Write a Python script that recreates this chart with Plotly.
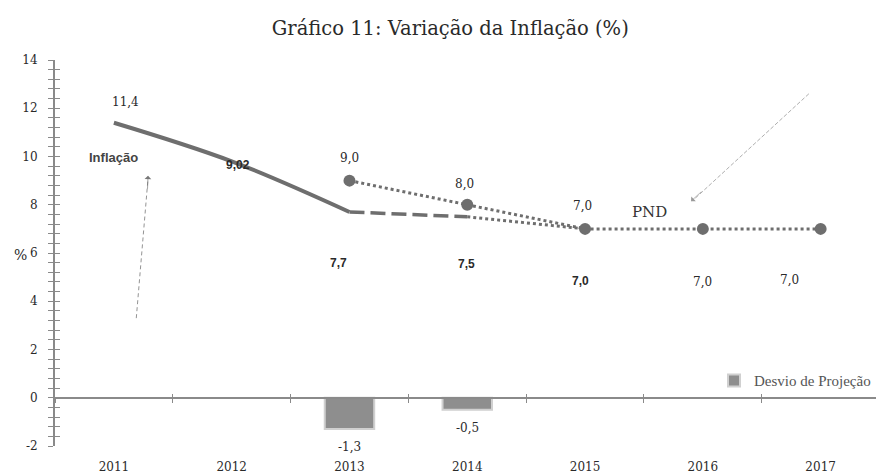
import plotly.graph_objects as go

# ---- data ----
years = [2011, 2012, 2013, 2014, 2015, 2016, 2017]
year_labels = ["2011", "2012", "2013", "2014", "2015", "2016", "2017"]
infl_years = [2011, 2012, 2013]
infl_values = [11.4, 9.8, 7.7]          # realised inflation curve (as drawn)
infl_labels = ["11,4", "9,02", "7,7"]
proj_years = [2013, 2014]
proj_values = [7.7, 7.5]                 # projection (dashed)
proj2_years = [2014, 2015]
proj2_values = [7.5, 7.0]                # projection continuation (dotted)
proj_labels = ["7,5", "7,0"]
pnd_years = [2013, 2014, 2015, 2016, 2017]
pnd_values = [9.0, 8.0, 7.0, 7.0, 7.0]
pnd_labels = ["9,0", "8,0", "7,0", "7,0", "7,0"]
desvio_years = [2013, 2014]
desvio_values = [-1.3, -0.5]
desvio_labels = ["-1,3", "-0,5"]
y_ticks = [-2, 0, 2, 4, 6, 8, 10, 12, 14]
y_tick_labels = ["-2", "0", "2", "4", "6", "8", "10", "12", "14"]
y_range = [-2, 14]
x_range = [2010.5, 2017.47]

SERIF = "DejaVu Serif, serif"
SERIF2 = "Liberation Serif, Times New Roman, serif"
SANS = "Liberation Sans, Arial, sans-serif"
LINE = "#6e6e6e"
AX = "#8a8a8a"
TXT = "#2a2a2a"

fig = go.Figure()

fig.add_trace(go.Bar(
    x=desvio_years, y=desvio_values, name="Desvio de Projeção", width=0.42,
    marker=dict(color="#8e8e8e", line=dict(color="#d0d0d0", width=2)),
    showlegend=True, hoverinfo="skip"))

fig.add_trace(go.Scatter(
    x=infl_years, y=infl_values, mode="lines", line=dict(color=LINE, width=4, shape="spline"),
    showlegend=False, hoverinfo="skip"))
fig.add_trace(go.Scatter(
    x=proj_years, y=proj_values, mode="lines", line=dict(color=LINE, width=3.5, dash="15px,6px"),
    showlegend=False, hoverinfo="skip"))
fig.add_trace(go.Scatter(
    x=proj2_years, y=proj2_values, mode="lines", line=dict(color=LINE, width=3, dash="dot"),
    showlegend=False, hoverinfo="skip"))
fig.add_trace(go.Scatter(
    x=pnd_years, y=pnd_values, mode="lines+markers", line=dict(color=LINE, width=3, dash="dot"),
    marker=dict(color=LINE, size=12), showlegend=False, hoverinfo="skip"))

# helper axes for crossing ticks
fig.add_trace(go.Scatter(x=[], y=[], xaxis="x2", yaxis="y2", showlegend=False, hoverinfo="skip"))
fig.add_trace(go.Scatter(x=[], y=[], xaxis="x3", yaxis="y2", showlegend=False, hoverinfo="skip"))

ann = []
def lab(x, y, t, xs=0, ys=0, bold=False, size=12):
    ann.append(dict(x=x, y=y, xref="x", yref="y", text=("<b>%s</b>" % t) if bold else t,
                    showarrow=False, xshift=xs, yshift=ys, xanchor="center", yanchor="middle",
                    font=dict(family=SANS if bold else SERIF, size=12 if bold else size, color=TXT)))

# inflation labels
lab(infl_years[0], infl_values[0], infl_labels[0], xs=12, ys=21)
lab(infl_years[1], 9.02, infl_labels[1], xs=6, ys=15, bold=True)
lab(infl_years[2], infl_values[2], infl_labels[2], xs=-11, ys=-51, bold=True)
# projection labels
lab(proj2_years[0], proj2_values[0], proj_labels[0], xs=-1, ys=-47, bold=True)
lab(proj2_years[1], proj2_values[1], proj_labels[1], xs=-5, ys=-52, bold=True)
# PND labels
lab(pnd_years[0], pnd_values[0], pnd_labels[0], xs=0, ys=23)
lab(pnd_years[1], pnd_values[1], pnd_labels[1], xs=-3, ys=21)
lab(pnd_years[2], pnd_values[2], pnd_labels[2], xs=-3, ys=23)
lab(pnd_years[3], pnd_values[3], pnd_labels[3], xs=0, ys=-53)
lab(pnd_years[4], pnd_values[4], pnd_labels[4], xs=-31, ys=-51)
# bar labels
for xv, yv, t in zip(desvio_years, desvio_values, desvio_labels):
    lab(xv, yv, t, xs=0, ys=-18)

# series names with arrows (dashed stems + arrow heads)
ann.append(dict(x=2011, y=10, xref="x", yref="y", text="<b>Inflação</b>", showarrow=False,
                xanchor="center", xshift=0, yshift=-1, font=dict(family=SANS, size=13, color="#444")))
shapes = [
    dict(type="line", xref="x", yref="y", x0=2011.19, y0=3.3, x1=2011.29, y1=9.1,
         line=dict(color="#777", width=0.8, dash="4px,3px")),
    dict(type="line", xref="x", yref="y", x0=2016.9, y0=12.6, x1=2015.92, y1=8.2,
         line=dict(color="#999", width=0.8, dash="4px,2px")),
]
ann.append(dict(x=2011.29, y=9.2, ax=2011.285, ay=8.6, xref="x", yref="y", axref="x", ayref="y",
                text="", showarrow=True, arrowhead=1, arrowsize=1.6, arrowwidth=0.7, arrowcolor="#777"))
ann.append(dict(x=2015.55, y=7.7, xref="x", yref="y", text="PND", showarrow=False,
                xanchor="center", font=dict(family=SERIF, size=15, color="#333")))
ann.append(dict(x=2015.9, y=8.15, ax=2016.0, ay=8.6, xref="x", yref="y", axref="x", ayref="y",
                text="", showarrow=True, arrowhead=1, arrowsize=1.6, arrowwidth=0.7, arrowcolor="#999"))
# y title
ann.append(dict(x=-0.0426, y=5.9, xref="paper", yref="y", text="%", showarrow=False,
                xanchor="center", yanchor="middle", font=dict(family=SERIF, size=14, color=TXT)))

fig.update_layout(
    width=876, height=475,
    margin=dict(l=55, r=0, t=60, b=29),
    paper_bgcolor="white", plot_bgcolor="white",
    title=dict(text="Gráfico 11: Variação da Inflação (%)", x=0.514, xanchor="center",
               y=0.94, yanchor="middle", font=dict(family=SERIF, size=19.5, color=TXT)),
    showlegend=True,
    legend=dict(x=1.0, xanchor="right", y=0.169, yanchor="middle", bgcolor="rgba(0,0,0,0)",
                font=dict(family=SERIF2, size=15, color="#555"), itemwidth=30),
    xaxis=dict(range=x_range, tickvals=years, ticktext=year_labels,
               showline=False, showgrid=False, zeroline=False,
               ticks="outside", ticklen=10, tickcolor="rgba(0,0,0,0)",
               tickfont=dict(family=SERIF, size=12, color=TXT)),
    xaxis2=dict(range=x_range, overlaying="x", anchor="free", position=0.125,
                tick0=2011.5, dtick=1, ticks="outside", ticklen=4, tickcolor=AX,
                showticklabels=False, showgrid=False, zeroline=False, showline=True,
                linecolor=AX, linewidth=2),
    xaxis3=dict(range=x_range, overlaying="x", anchor="free", position=0.125,
                tick0=2011.5, dtick=1, ticks="inside", ticklen=4, tickcolor=AX,
                showticklabels=False, showgrid=False, zeroline=False, showline=False),
    yaxis=dict(range=y_range, tickvals=y_ticks, ticktext=y_tick_labels,
               ticks="outside", ticklen=5, tickcolor=AX,
               showline=True, linecolor=AX, linewidth=2, showgrid=False, zeroline=False,
               ticklabelstandoff=8,
               minor=dict(dtick=0.4, tick0=-2, ticks="outside", ticklen=5, tickcolor=AX),
               tickfont=dict(family=SERIF, size=12, color=TXT)),
    yaxis2=dict(range=y_range, overlaying="y", anchor="x", side="left", tickvals=y_ticks,
                ticks="inside", ticklen=5, tickcolor=AX, showticklabels=False,
                showgrid=False, zeroline=False, showline=False,
                minor=dict(dtick=0.4, tick0=-2, ticks="inside", ticklen=5, tickcolor=AX)),
    annotations=ann,
    shapes=shapes,
    bargap=0.5,
)

fig.write_html("out.html", config={"displayModeBar": False},
               post_script="document.body.style.margin='0';")
